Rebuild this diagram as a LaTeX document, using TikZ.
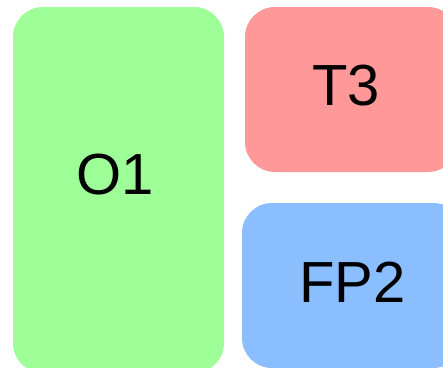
\documentclass[tikz,border=0pt]{standalone}
\usepackage{fontspec}
\setmainfont{Liberation Sans}
\definecolor{boxgreen}{RGB}{158,255,152}
\definecolor{boxred}{RGB}{255,153,153}
\definecolor{boxblue}{RGB}{138,190,255}
\tikzset{
  panel/.style={rectangle, rounded corners=30pt, inner sep=0pt, draw=none},
  tag/.style={inner sep=0pt, font=\fontsize{58}{60}\selectfont}
}
\begin{document}
\begin{tikzpicture}[x=1pt, y=-1pt]
      \useasboundingbox (0,0) rectangle (443,367);
      \clip (0,0) rectangle (443,367);
      \node[panel, fill=boxgreen, minimum width=211pt, minimum height=366pt] (o1) at (118.5,190) {};
      \node[panel, fill=boxred, minimum width=213pt, minimum height=165pt] (t3) at (351.5,89.5) {};
      \node[panel, fill=boxblue, minimum width=221pt, minimum height=165pt] (fp2) at (352.5,285.5) {};
      \node[tag] (o1label) at (115,175) {O1};
      \node[tag] (t3label) at (346,86) {T3};
      \node[tag] (fp2label) at (352.5,282) {FP2};
    \end{tikzpicture}
\end{document}
